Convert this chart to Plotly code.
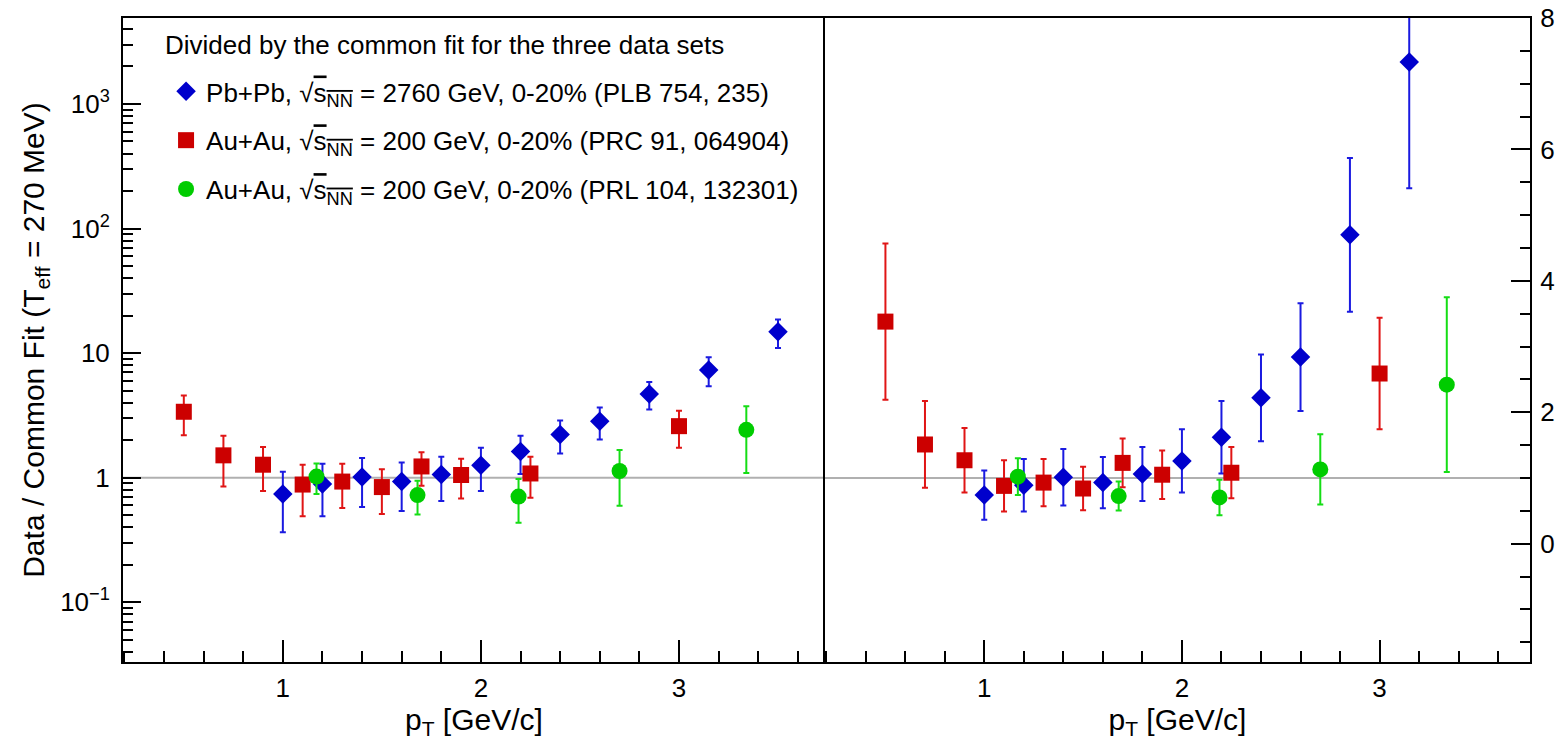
import plotly.graph_objects as go

# Pb+Pb, sqrt(sNN) = 2760 GeV, 0-20% (PLB 754, 235)
pbpb_pt = [1.0, 1.2, 1.4, 1.6, 1.8, 2.0, 2.2, 2.4, 2.6, 2.85, 3.15, 3.5]
pbpb_ratio = [0.74, 0.89, 1.01, 0.93, 1.06, 1.26, 1.62, 2.22, 2.84, 4.70, 7.33, 14.8]
pbpb_err = [0.375, 0.40, 0.43, 0.39, 0.41, 0.48, 0.55, 0.66, 0.82, 1.17, 1.92, 3.8]

# Au+Au, sqrt(sNN) = 200 GeV, 0-20% (PRC 91, 064904)
auau_prc_pt = [0.5, 0.7, 0.9, 1.1, 1.3, 1.5, 1.7, 1.9, 2.25, 3.0]
auau_prc_ratio = [3.38, 1.51, 1.27, 0.88, 0.93, 0.84, 1.23, 1.05, 1.08, 2.59]
auau_prc_err = [1.19, 0.66, 0.49, 0.39, 0.36, 0.33, 0.37, 0.37, 0.39, 0.85]

# Au+Au, sqrt(sNN) = 200 GeV, 0-20% (PRL 104, 132301)
auau_prl_pt = [1.17, 1.68, 2.19, 2.70, 3.34]
auau_prl_ratio = [1.02, 0.725, 0.705, 1.13, 2.42]
auau_prl_err = [0.28, 0.22, 0.27, 0.535, 1.33]

REF_LEVEL = 1.0

log_tick_vals = [0.1, 1, 10, 100, 1000]
log_tick_text = ["10<sup>\u22121</sup>", "1", "10", "10<sup>2</sup>", "10<sup>3</sup>"]

SQRT_S = "\u221a<span style='text-decoration:overline'>s<sub>NN</sub></span>"

series = [
    dict(name=f"Pb+Pb, {SQRT_S} = 2760 GeV, 0-20% (PLB 754, 235)",
         x=pbpb_pt, y=pbpb_ratio, e=pbpb_err,
         symbol="diamond", size=15, color="#0000cc", ecolor="#1a1ae0"),
    dict(name=f"Au+Au, {SQRT_S} = 200 GeV, 0-20% (PRC 91, 064904)",
         x=auau_prc_pt, y=auau_prc_ratio, e=auau_prc_err,
         symbol="square", size=16, color="#cc0000", ecolor="#e01515"),
    dict(name=f"Au+Au, {SQRT_S} = 200 GeV, 0-20% (PRL 104, 132301)",
         x=auau_prl_pt, y=auau_prl_ratio, e=auau_prl_err,
         symbol="circle", size=16, color="#00cc00", ecolor="#15dd15"),
]

FONT = "Liberation Sans, Arial, Helvetica, sans-serif"
TICK_FONT = dict(family=FONT, size=26, color="black")
TITLE_FONT = dict(family=FONT, size=30, color="black")
LEGEND_FONT = dict(family=FONT, size=26, color="black")

fig = go.Figure()

for i, s in enumerate(series):
    for xa, ya, show in (("x", "y", True), ("x2", "y2", False)):
        fig.add_trace(go.Scatter(
            x=s["x"], y=s["y"], mode="markers", name=s["name"],
            xaxis=xa, yaxis=ya, showlegend=show, legendgroup=f"g{i}",
            marker=dict(symbol=s["symbol"], size=s["size"], color=s["color"],
                        line=dict(width=0)),
            error_y=dict(type="data", array=s["e"], symmetric=True,
                         color=s["ecolor"], thickness=2, width=3),
        ))

# horizontal reference at unity in both panels
for xr, yr in (("x domain", "y"), ("x2 domain", "y2")):
    fig.add_shape(type="line", xref=xr, x0=0, x1=1, yref=yr,
                  y0=REF_LEVEL, y1=REF_LEVEL,
                  line=dict(color="#b0b0b0", width=2), layer="below")

axis_common = dict(showline=True, linecolor="black", linewidth=2, mirror=True,
                   showgrid=False, zeroline=False, ticks="inside",
                   tickcolor="black", tickwidth=2, tickfont=TICK_FONT)

x_common = dict(axis_common, dtick=1, tick0=0, ticklen=22,
                minor=dict(ticks="inside", dtick=0.2, tick0=0, ticklen=11,
                           tickcolor="black", tickwidth=2, showgrid=False),
                ticklabelstandoff=2,
                title=dict(text="p<sub>T</sub> [GeV/c]", font=TITLE_FONT,
                           standoff=0))

SPLIT = 0.4989

fig.update_layout(
    width=1556, height=740,
    margin=dict(l=123, r=26, t=18, b=78, autoexpand=False),
    paper_bgcolor="white", plot_bgcolor="white",
    font=dict(family=FONT, color="black"),
    xaxis=dict(x_common, domain=[0, SPLIT], range=[0.193, 3.737], anchor="y"),
    xaxis2=dict(x_common, domain=[SPLIT, 1], range=[0.194, 3.761], anchor="y2"),
    # the shared middle border is drawn once, by the right panel's frame
    yaxis=dict(axis_common, mirror=False, type="log", range=[-1.48, 3.69],
               anchor="x", tickvals=log_tick_vals, ticktext=log_tick_text,
               ticklen=18,
               minor=dict(ticks="inside", dtick="D1", ticklen=10,
                          tickcolor="black", tickwidth=2, showgrid=False),
               ticklabelstandoff=6,
               title=dict(text="Data / Common Fit (T<sub>eff</sub> = 270 MeV)",
                          font=TITLE_FONT, standoff=7)),
    yaxis2=dict(axis_common, side="right", range=[-1.8, 8.0001], anchor="x2",
                dtick=2, tick0=0, ticklen=19,
                minor=dict(ticks="inside", dtick=0.5, tick0=0, ticklen=10,
                           tickcolor="black", tickwidth=2, showgrid=False),
                ticklabelstandoff=3),
    legend=dict(x=0.0306, y=0.9224, xanchor="left", yanchor="top",
                bgcolor="rgba(0,0,0,0)", borderwidth=0,
                traceorder="grouped", tracegroupgap=12,
                font=LEGEND_FONT),
    annotations=[dict(text="Divided by the common fit for the three data sets",
                      xref="paper", yref="paper", x=0.0284, y=0.958,
                      xanchor="left", yanchor="middle", showarrow=False,
                      font=LEGEND_FONT)],
)

fig.write_html("out.html")
